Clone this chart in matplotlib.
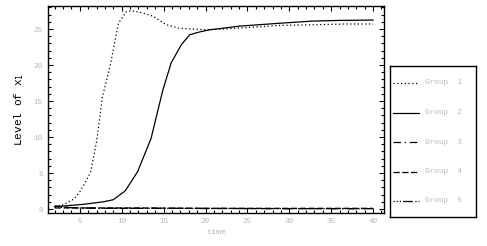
import numpy as np
import matplotlib
matplotlib.use("Agg")
import matplotlib.pyplot as plt
from matplotlib.ticker import MultipleLocator

# values
t1 = [2, 3, 4, 4.3, 5, 5.8, 6.3, 7, 7.7, 8.6, 9.6, 10.6, 11.3, 12.3, 13.7, 15.3, 16.9, 18.5, 20, 22, 25, 28.8, 33, 36.7, 40]
g1 = [0.3, 0.6, 1.2, 1.4, 2.4, 4.0, 5.2, 9.4, 15.6, 19.8, 25.8, 27.5, 27.5, 27.3, 26.8, 25.6, 25.1, 25.0, 24.9, 25.0, 25.2, 25.5, 25.6, 25.7, 25.7]

t2 = [2, 2.2, 3.4, 5.4, 7.8, 9.0, 10.4, 11.9, 13.5, 14.9, 15.9, 17.1, 18.1, 19.3, 20.5, 22, 24, 28.8, 32.7, 36, 40]
g2 = [0.3, 0.35, 0.46, 0.65, 1.0, 1.3, 2.5, 5.2, 9.8, 16.5, 20.3, 22.8, 24.2, 24.6, 24.9, 25.1, 25.4, 25.8, 26.1, 26.2, 26.25]

t_low = [2, 3, 4, 5, 8, 12, 16, 20, 30, 40]
g3 = [0.45, 0.3, 0.2, 0.15, 0.1, 0.1, 0.1, 0.08, 0.05, 0.05]
g4 = [0.15, 0.15, 0.15, 0.15, 0.15, 0.15, 0.12, 0.1, 0.1, 0.1]
g5 = [0.3, 0.25, 0.2, 0.15, 0.12, 0.1, 0.1, 0.08, 0.05, 0.05]

labels = ['Group  1', 'Group  2', 'Group  3', 'Group  4', 'Group  5']
styles = [(0, (1, 2)), '-', (0, (6, 3, 1, 3)), (0, (5, 2)), (0, (1, 1.5, 1, 1.5, 1, 1.5, 8, 2))]

plt.rcParams['font.family'] = ['Liberation Mono', 'DejaVu Sans Mono']
grey = '#b8b8b8'

fig = plt.figure(figsize=(4.87, 2.46), dpi=100)
ax = fig.add_axes([48 / 487, 1 - 213 / 246, 336 / 487, 207 / 246])

series = [(t1, g1), (t2, g2), (t_low, g3), (t_low, g4), (t_low, g5)]
for (x, y), ls, lab in zip(series, styles, labels):
    ax.plot(x, y, color='black', linestyle=ls, linewidth=0.9, label=lab)

ax.set_xlim(1.2, 41.3)
ax.set_ylim(-0.55, 28.2)
ax.xaxis.set_major_locator(MultipleLocator(5))
ax.xaxis.set_minor_locator(MultipleLocator(1))
ax.yaxis.set_major_locator(MultipleLocator(5))
ax.yaxis.set_minor_locator(MultipleLocator(1))
ax.tick_params(which='both', direction='in', top=True, right=True,
               labelsize=5.5, labelcolor=grey, width=0.8)
ax.tick_params(which='major', length=3.5)
ax.tick_params(which='minor', length=2)
for s in ax.spines.values():
    s.set_linewidth(1.0)

ax.set_xlabel('time', fontsize=6, color=grey, labelpad=3)
ax.set_ylabel('Level of x$_1$', fontsize=8, color='black', labelpad=6)

# legend box drawn as its own small axes (pixel units inside)
lax = fig.add_axes([390 / 487, 1 - 217 / 246, 86 / 487, 151 / 246])
lax.set_xlim(0, 86)
lax.set_ylim(151, 0)
lax.set_xticks([])
lax.set_yticks([])
for s in lax.spines.values():
    s.set_linewidth(1.0)
for i, (ls, lab) in enumerate(zip(styles, labels)):
    yy = 17 + i * 29.5
    lax.plot([3, 29], [yy, yy], color='black', linestyle=ls, linewidth=0.9)
    lax.text(35, yy, lab, fontsize=5.5, color=grey, va='center', ha='left')

fig.savefig('out.png', dpi=100)
